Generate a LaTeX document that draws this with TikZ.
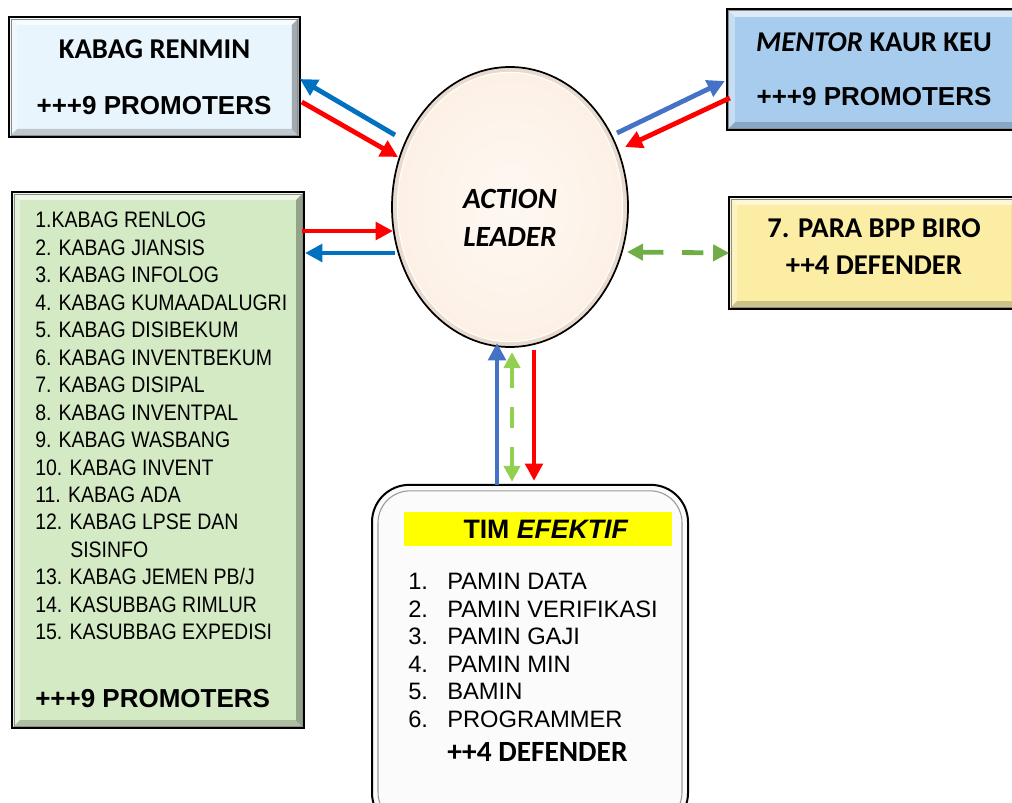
\documentclass[tikz,border=0pt]{standalone}
\usepackage{fontspec}
\usetikzlibrary{shapes.geometric,arrows.meta,calc}
\newfontfamily\calibri{Carlito}
\newfontfamily\arial{Liberation Sans}
\newfontfamily\arialn[FakeStretch=0.87]{Liberation Sans}

\definecolor{renminfill}{RGB}{233,245,253}
\definecolor{mentorfill}{RGB}{168,204,238}
\definecolor{listfill}{RGB}{212,234,196}
\definecolor{birofill}{RGB}{251,237,163}
\definecolor{leaderfill}{RGB}{253,241,230}
\definecolor{leaderring}{RGB}{232,218,206}
\definecolor{teamfill}{RGB}{251,251,251}
\definecolor{arrblue}{RGB}{0,112,192}
\definecolor{arrsteel}{RGB}{68,114,196}
\definecolor{arrred}{RGB}{255,0,0}
\definecolor{arrgreen}{RGB}{112,173,71}
\definecolor{arrlime}{RGB}{146,208,80}
\definecolor{bandyellow}{RGB}{255,255,0}

\tikzset{
  panel/.style={draw=black, line width=1.3pt, outer sep=0pt, inner sep=0pt, fill=#1},
  flow/.style={line width=3.6pt, -{Triangle[length=13pt,width=13pt]}, draw=#1},
  dflow/.style={line width=3.6pt, {Triangle[length=12pt,width=12pt]}-{Triangle[length=12pt,width=12pt]}, dash pattern=on 16pt off 14pt, draw=#1},
  headtxt/.style={font=\calibri\bfseries\fontsize{21.5}{26}\selectfont},
  promotxt/.style={font=\arial\bfseries\fontsize{19.5}{23}\selectfont},
  listtxt/.style={anchor=base west, inner sep=0pt, font=\arialn\fontsize{16.8}{20}\selectfont},
  teamtxt/.style={anchor=base west, inner sep=0pt, font=\arial\fontsize{17.8}{21}\selectfont},
}

% bevel on a panel node
\newcommand{\bevel}[1]{%
  \fill[white,opacity=.6] (#1.north west) -- (#1.north east) -- ($(#1.north east)+(-8,8)$) -- ($(#1.north west)+(8,8)$) -- cycle;
  \fill[white,opacity=.35] (#1.north west) -- ($(#1.north west)+(8,8)$) -- ($(#1.south west)+(8,-8)$) -- (#1.south west) -- cycle;
  \fill[black,opacity=.3] (#1.north east) -- (#1.south east) -- ($(#1.south east)+(-8,-8)$) -- ($(#1.north east)+(-8,8)$) -- cycle;
  \fill[black,opacity=.18] (#1.south west) -- (#1.south east) -- ($(#1.south east)+(-8,-8)$) -- ($(#1.south west)+(8,-8)$) -- cycle;
  \draw[black,line width=1.3pt] (#1.north west) rectangle (#1.south east);
  \draw[black!45,line width=.6pt] ($(#1.north west)+(2,2)$) rectangle ($(#1.south east)+(-2,-2)$);}

\begin{document}
\begin{tikzpicture}[x=0.75pt,y=0.75pt,yscale=-1,xscale=1]
\useasboundingbox (0,0) rectangle (1012,802);

%Shape: Rectangle [renmin]
\node[panel=renminfill, minimum width=218pt, minimum height=90pt] (renmin) at (154.5,77) {};
\bevel{renmin}
%Shape: Rectangle [mentor]
\node[panel=mentorfill, minimum width=220pt, minimum height=91pt] (mentor) at (873.5,69.5) {};
\bevel{mentor}
%Shape: Rectangle [list]
\node[panel=listfill, minimum width=219pt, minimum height=402pt] (list) at (158,460) {};
\bevel{list}
%Shape: Rectangle [biro]
\node[panel=birofill, minimum width=218pt, minimum height=84pt] (biro) at (874.5,253) {};
\bevel{biro}

%Shape: Ellipse [leader]
\node[ellipse, draw=black, line width=1.3pt, fill=leaderring, minimum width=177pt, minimum height=210pt, inner sep=0pt, outer sep=0pt] (leader) at (510,207) {};
\node[ellipse, draw=white, line width=.8pt, shading=radial, inner color=white!50!leaderfill, outer color=leaderfill, minimum width=169pt, minimum height=202pt, inner sep=0pt] (leaderin) at (510,207) {};

%Shape: Rounded Rectangle [team]
\node[draw=black, line width=1.5pt, rounded corners=28pt, fill=teamfill, minimum width=237pt, minimum height=259pt, inner sep=0pt, outer sep=0pt] (team) at (530,657.5) {};
\draw[black!40, line width=.8pt, rounded corners=24pt] ($(team.north west)+(6,6)$) rectangle ($(team.south east)+(-6,-6)$);
\node[fill=bandyellow, minimum width=201pt, minimum height=25.5pt, inner sep=0pt] (band) at (538,529) {};

% Text Node
\node[headtxt] (renmintitle) at (154.5,49) {KABAG RENMIN};
% Text Node
\node[promotxt] (renminpromo) at (154,106) {+++9 PROMOTERS};
% Text Node
\node[headtxt] (mentortitle) at (874,42) {\textit{MENTOR} KAUR KEU};
% Text Node
\node[promotxt] (mentorpromo) at (874,97) {+++9 PROMOTERS};
% Text Node
\node[headtxt] (birotitle) at (874,228) {7. PARA BPP BIRO};
% Text Node
\node[headtxt] (birodef) at (874,265) {++4 DEFENDER};
% Text Node
\node[font=\calibri\bfseries\itshape\fontsize{22}{29}\selectfont, align=center] (leadertxt) at (510,218) {ACTION\\LEADER};

% Text Node
\node[listtxt] (g1) at (35,228) {1.KABAG RENLOG};
\node[listtxt] (g2) at (35,255.4) {2. KABAG JIANSIS};
\node[listtxt] (g3) at (35,282.9) {3. KABAG INFOLOG};
\node[listtxt] (g4) at (35,310.3) {4. KABAG KUMAADALUGRI};
\node[listtxt] (g5) at (35,337.8) {5. KABAG DISIBEKUM};
\node[listtxt] (g6) at (35,365.2) {6. KABAG INVENTBEKUM};
\node[listtxt] (g7) at (35,392.6) {7. KABAG DISIPAL};
\node[listtxt] (g8) at (35,420.1) {8. KABAG INVENTPAL};
\node[listtxt] (g9) at (35,447.5) {9. KABAG WASBANG};
\node[listtxt] (g10) at (35,475) {10. KABAG INVENT};
\node[listtxt] (g11) at (35,502.4) {11. KABAG ADA};
\node[listtxt] (g12) at (35,529.8) {12. KABAG LPSE DAN};
\node[listtxt] (g12b) at (70,557.3) {SISINFO};
\node[listtxt] (g13) at (35,584.7) {13. KABAG JEMEN PB/J};
\node[listtxt] (g14) at (35,612.2) {14. KASUBBAG RIMLUR};
\node[listtxt] (g15) at (35,639.6) {15. KASUBBAG EXPEDISI};
% Text Node
\node[promotxt, anchor=base west, inner sep=0pt] (listpromo) at (35,707) {+++9 PROMOTERS};

% Text Node
\node[font=\arial\bfseries\fontsize{20}{24}\selectfont] (teamtitle) at (546,529) {TIM \textit{EFEKTIF}};
\node[teamtxt] (t1) at (408,589.5) {\makebox[29.25pt][l]{1.}PAMIN DATA};
\node[teamtxt] (t2) at (408,617) {\makebox[29.25pt][l]{2.}PAMIN VERIFIKASI};
\node[teamtxt] (t3) at (408,644.5) {\makebox[29.25pt][l]{3.}PAMIN GAJI};
\node[teamtxt] (t4) at (408,672) {\makebox[29.25pt][l]{4.}PAMIN MIN};
\node[teamtxt] (t5) at (408,699.5) {\makebox[29.25pt][l]{5.}BAMIN};
\node[teamtxt] (t6) at (408,727) {\makebox[29.25pt][l]{6.}PROGRAMMER};
\node[font=\calibri\bfseries\fontsize{22}{26}\selectfont, anchor=base west, inner sep=0pt] (teamdef) at (447,761) {++4 DEFENDER};

%Arrows: renmin
\draw[flow=arrblue] ($(leader.center)+(-115,-72)$) -- ($(renmin.east)+(0,2)$);
\draw[flow=arrred] ($(renmin.east)+(2,25)$) -- ($(leader.center)+(-112,-50)$);
%Arrows: mentor
\draw[flow=arrsteel] ($(leader.center)+(107,-74)$) -- ($(mentor.west)+(-2,11.5)$);
\draw[flow=arrred] ($(mentor.west)+(3,28.5)$) -- ($(leader.center)+(115,-60)$);
%Arrows: list
\draw[flow=arrred] ($(list.north east)+(-2,39)$) -- ($(leader.center)+(-117,24)$);
\draw[flow=arrblue] ($(leader.center)+(-115,46)$) -- ($(list.north east)+(1,61)$);
%Arrows: biro
\draw[dflow=arrgreen] ($(leader.center)+(117,45)$) -- (biro.west);
%Arrows: team
\draw[flow=arrsteel] ($(team.north)+(-33,0)$) -- ($(leader.center)+(-13,136)$);
\draw[dflow=arrlime] ($(leader.center)+(2,145)$) -- ($(team.north)+(-18,-3)$);
\draw[flow=arrred] ($(leader.center)+(24,143)$) -- ($(team.north)+(4,-4)$);

\end{tikzpicture}
\end{document}
